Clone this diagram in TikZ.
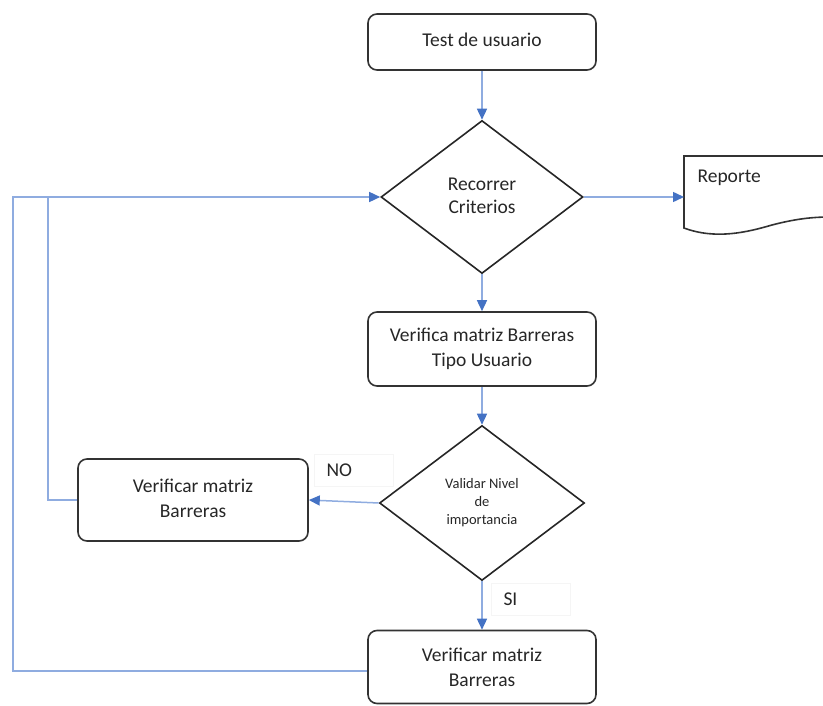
\documentclass[tikz,border=0pt]{standalone}
\usepackage{fontspec}
\setmainfont{Carlito}
\usetikzlibrary{shapes.geometric}
\usetikzlibrary{arrows.meta}
\usetikzlibrary{positioning}

\definecolor{flowblue}{RGB}{68,114,196}
\definecolor{lineblue}{RGB}{143,172,224}

\newcommand{\liftlines}[2]{\raisebox{#1}{\begin{tabular}{@{}c@{}}#2\end{tabular}}}

\tikzset{
  proc/.style={draw=black!80,line width=1.6pt,rounded corners=9pt,align=center,inner sep=0pt,font=\fontsize{19.5}{25}\selectfont,text=black!85},
  decision/.style={diamond,draw=black!85,line width=1.6pt,inner sep=0pt,align=center,text=black!85},
  flow/.style={draw=lineblue,line width=1.5pt,-{Triangle[length=11pt,width=10pt,color=flowblue]}},
  back/.style={draw=lineblue,line width=1.5pt},
  tag/.style={draw=black!4,minimum width=79pt,minimum height=32pt,inner xsep=12pt,text width=55pt,align=left,font=\fontsize{19.5}{24}\selectfont,text=black!85}
}

\begin{document}
\begin{tikzpicture}[x=1pt,y=-1pt]
\useasboundingbox (0,0) rectangle (823,706);

% process boxes and decisions
\node[proc,minimum width=228pt,minimum height=56pt] (test) at (482,42) {\raisebox{5pt}{Test de usuario}};
\node[decision,minimum width=202pt,minimum height=153pt,font=\fontsize{19.5}{23}\selectfont] (crit) at (482,197) {\liftlines{7pt}{Recorrer\\Criterios}};
\node[proc,minimum width=228pt,minimum height=74pt] (tipo) at (482,349) {Verifica matriz Barreras\\Tipo Usuario};
\node[decision,minimum width=205pt,minimum height=155pt,font=\fontsize{14.5}{18}\selectfont] (nivel) at (482,503) {Validar Nivel\\de\\importancia};
\node[proc,minimum width=230pt,minimum height=82pt] (barL) at (193,500) {\liftlines{5pt}{Verificar matriz\\Barreras}};
\node[proc,minimum width=228pt,minimum height=73pt] (barB) at (482,667) {Verificar matriz\\Barreras};

% report document
\draw[draw=black!80,line width=1.6pt] (830,156) -- (684,156) -- (684,228)
  .. controls (716,240) and (748,232) .. (772,225)
  .. controls (795,219) and (812,217) .. (830,217);
\coordinate (rep) at (684,197);
\node[anchor=west,font=\fontsize{19.5}{24}\selectfont,text=black!85] (reptext) at (694,178) {Reporte};

% branch labels
\node[tag] (no) at (354,470) {NO};
\node[tag] (si) at (531,599) {SI};

% connectors
\draw[flow] (test.south) -- (crit.north);
\draw[flow] (crit.east) -- (rep);
\draw[flow] (crit.south) -- (tipo.north);
\draw[flow] (tipo.south) -- (nivel.north);
\draw[flow] (nivel.west) -- (barL.east);
\draw[flow] (nivel.south) -- (barB.north);

% feedback lines
\coordinate (inner) at (48,197);
\coordinate (outer) at (13,197);
\draw[flow] (barL.west) -| (inner) -- (crit.west);
\draw[back] ([yshift=-4pt]barB.west) -| (outer) -- (inner);

\end{tikzpicture}
\end{document}
